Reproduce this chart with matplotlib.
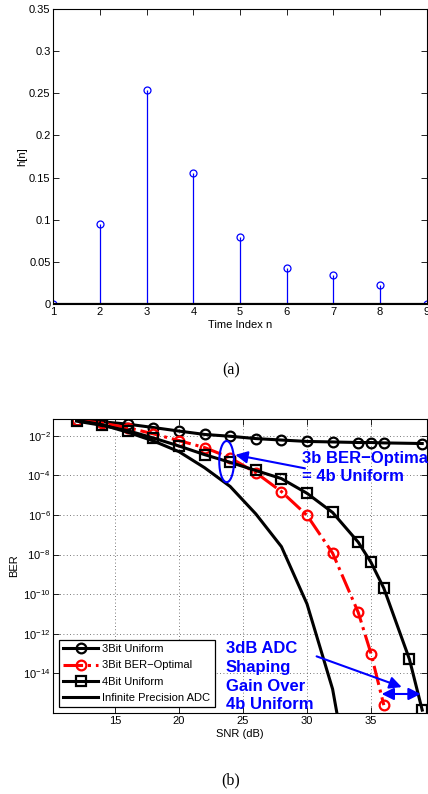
import numpy as np
import matplotlib
matplotlib.use("Agg")
import matplotlib.pyplot as plt
from matplotlib.ticker import NullLocator, FixedLocator

plt.rcParams['font.family'] = ['Liberation Sans', 'DejaVu Sans']
plt.rcParams['mathtext.fontset'] = 'custom'
plt.rcParams['mathtext.rm'] = 'Liberation Sans'
plt.rcParams['font.size'] = 8

# - - - (a) impulse response - - - #
n_idx = [1, 2, 3, 4, 5, 6, 7, 8, 9]
h_n = [0.0, 0.095, 0.254, 0.155, 0.079, 0.043, 0.035, 0.022, 0.0]

# - - - (b) BER curves - - - #
snr_3u = [12, 14, 16, 18, 20, 22, 24, 26, 28, 30, 32, 34, 35, 36, 39]
ber_3u = [6.0e-2, 5.0e-2, 3.8e-2, 2.57e-2, 1.7e-2, 1.15e-2, 9.3e-3, 7.1e-3,
          6.0e-3, 5.1e-3, 4.8e-3, 4.5e-3, 4.5e-3, 4.3e-3, 4.0e-3]

snr_3opt = [12, 14, 16, 18, 20, 22, 24, 26, 28, 30, 32, 34, 35, 36]
ber_3opt = [6.0e-2, 4.27e-2, 2.51e-2, 1.23e-2, 5.6e-3, 2.5e-3, 7.6e-4, 1.35e-4,
            1.5e-5, 9.5e-7, 1.17e-8, 1.2e-11, 1.0e-13, 2.5e-16]

snr_4u = [12, 14, 16, 18, 20, 22, 24, 26, 28, 30, 32, 34, 35, 36, 38, 39]
ber_4u = [5.4e-2, 3.3e-2, 1.78e-2, 7.6e-3, 3.0e-3, 1.1e-3, 4.5e-4, 1.74e-4,
          6.8e-5, 1.23e-5, 1.32e-6, 4.2e-8, 4.0e-9, 2.0e-10, 5.2e-14, 1.4e-16]

snr_inf = [12, 14, 16, 18, 20, 22, 24, 26, 28, 30, 32, 34]
ber_inf = [6.0e-2, 3.55e-2, 1.48e-2, 5.4e-3, 1.55e-3, 2.4e-4, 2.7e-5, 1.12e-6,
           2.5e-8, 3.2e-11, 1.6e-15, 1e-22]

legend_labels = ['3Bit Uniform', '3Bit BER\u2212Optimal', '4Bit Uniform',
                 'Infinite Precision ADC']

W, H = 428, 794
fig = plt.figure(figsize=(W / 100, H / 100), dpi=100)

blue = '#0000ff'
red = '#ff0000'


def style_axes(ax):
    ax.tick_params(direction='in', top=True, right=True, length=4, width=0.6,
                   labelsize=8, pad=2)
    for s in ax.spines.values():
        s.set_linewidth(0.8)


# - - - - top panel - - - - #
ax1 = fig.add_axes([53.3 / W, 1 - 304 / H, 373.4 / W, 295 / H])
ml, sl, bl = ax1.stem(n_idx, h_n, linefmt='-', markerfmt='o', basefmt='k-')
plt.setp(sl, color=blue, linewidth=0.9)
plt.setp(ml, color=blue, markerfacecolor='none', markersize=5, markeredgewidth=0.9)
plt.setp(bl, color='k', linewidth=1.6)
ax1.set_xlim(1, 9)
ax1.set_ylim(0, 0.35)
ax1.set_xticks(range(1, 10))
ax1.set_yticks([0, 0.05, 0.1, 0.15, 0.2, 0.25, 0.3, 0.35])
ax1.set_yticklabels(['0', '0.05', '0.1', '0.15', '0.2', '0.25', '0.3', '0.35'])
ax1.set_xlabel('Time Index n', fontsize=8, labelpad=2)
ax1.set_ylabel('h[n]', fontsize=8, labelpad=1)
style_axes(ax1)
fig.text(231 / W, 1 - 370 / H, '(a)', ha='center', va='center',
         family='Liberation Serif', fontsize=11.5)

# - - - - bottom panel - - - - #
ax2 = fig.add_axes([53.3 / W, 1 - 713 / H, 373.4 / W, 294 / H])
ax2.semilogy(snr_3u, ber_3u, '-', color='k', lw=2.2, marker='o', ms=7,
             mfc='none', mew=1.6, label=legend_labels[0])
ax2.semilogy(snr_3opt, ber_3opt, '-.', color=red, lw=2.2, marker='o', ms=7,
             mfc='none', mew=1.6, label=legend_labels[1])
ax2.semilogy(snr_4u, ber_4u, '-', color='k', lw=2.2, marker='s', ms=6.5,
             mfc='none', mew=1.6, label=legend_labels[2])
ax2.semilogy(snr_inf, ber_inf, '-', color='k', lw=2.2, label=legend_labels[3])

ax2.set_xlim(10.18, 39.35)
ax2.set_ylim(1e-16, 10 ** -1.16)
ax2.set_xticks([15, 20, 25, 30, 35])
ax2.yaxis.set_major_locator(FixedLocator([1e-14, 1e-12, 1e-10, 1e-8, 1e-6, 1e-4, 1e-2]))
ax2.yaxis.set_minor_locator(NullLocator())
ax2.grid(True, which='major', color='0.3', linestyle=(0, (1, 3)), linewidth=0.6)
ax2.set_xlabel('SNR (dB)', fontsize=8, labelpad=2)
ax2.set_ylabel('BER', fontsize=8, labelpad=3)
style_axes(ax2)

leg = ax2.legend(loc='lower left', bbox_to_anchor=(0.015, 0.02), borderaxespad=0,
                 fontsize=8, fancybox=False, framealpha=1, edgecolor='k',
                 handlelength=3.1, labelspacing=0.55, borderpad=0.4,
                 handletextpad=0.4)
leg.get_frame().set_linewidth(0.9)

# ellipse around the matching point
t = np.linspace(0, 2 * np.pi, 200)
ax2.plot(23.72 + 0.575 * np.cos(t), 10 ** (-3.31 + 1.04 * np.sin(t)),
         color=blue, lw=1.5)

ax2.annotate('', xy=(24.4, 10 ** -2.97), xytext=(29.84, 10 ** -3.65),
             arrowprops=dict(arrowstyle='-|>', color=blue, lw=1.5,
                             mutation_scale=18, shrinkA=0, shrinkB=0))
ax2.text(0.666, 0.89, '3b BER\u2212Optimal\n= 4b Uniform', transform=ax2.transAxes,
         ha='left', va='top', color=blue, fontsize=12, fontweight='bold',
         linespacing=1.25, clip_on=False)

ax2.annotate('', xy=(37.4, 10 ** -14.69), xytext=(30.75, 10 ** -13.14),
             arrowprops=dict(arrowstyle='-|>', color=blue, lw=1.5,
                             mutation_scale=18, shrinkA=0, shrinkB=0))
ax2.annotate('', xy=(38.88, 10 ** -15.04), xytext=(35.83, 10 ** -15.04),
             arrowprops=dict(arrowstyle='<|-|>', color=blue, lw=1.5,
                             mutation_scale=18, shrinkA=0, shrinkB=0))
ax2.text(0.4625, 0.245, '3dB ADC\nShaping\nGain Over\n4b Uniform',
         transform=ax2.transAxes, ha='left', va='top', color=blue,
         fontsize=12, fontweight='bold', linespacing=1.32)

fig.text(231 / W, 1 - 780 / H, '(b)', ha='center', va='center',
         family='Liberation Serif', fontsize=11.5)

fig.savefig('out.png', dpi=100)
